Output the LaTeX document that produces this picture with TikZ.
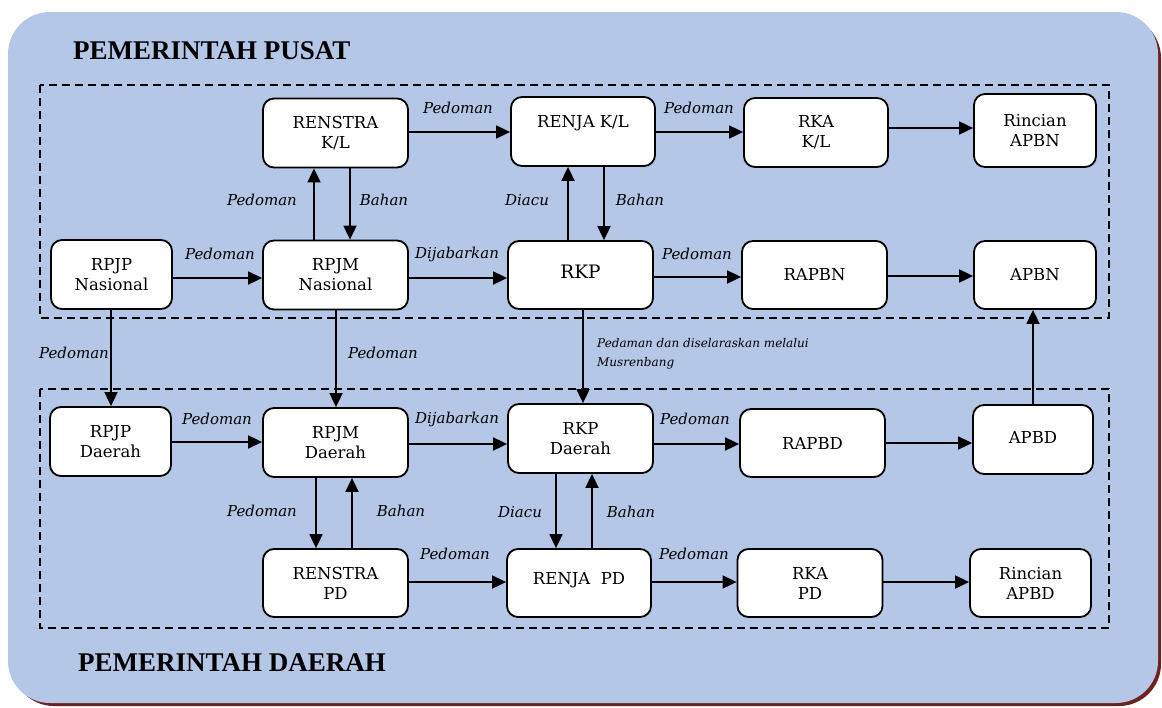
\documentclass[tikz,border=0pt]{standalone}
\usepackage{fontspec}
\setmainfont{DejaVu Serif}
\newfontfamily\titlefont{Liberation Serif}
\usetikzlibrary{arrows.meta}
\definecolor{bgblue}{HTML}{B4C7E7}
\definecolor{shadowred}{HTML}{6E2220}
\tikzset{
  box/.style={draw=black, line width=1.8pt, rounded corners=11pt, fill=white, align=center,
    inner sep=0pt, font=\fontsize{16.5}{20}\selectfont},
  lbl/.style={font=\fontsize{15}{17}\itshape\selectfont, inner sep=0pt},
  arr/.style={line width=1.8pt, -{Triangle[length=14pt,width=13pt]}},
  region/.style={draw=black, line width=1.6pt, dash pattern=on 8pt off 5pt},
  ttl/.style={font=\titlefont\bfseries\fontsize{27}{30}\selectfont, anchor=west, inner sep=0pt}
}
\begin{document}
\begin{tikzpicture}[x=1pt,y=-1pt]
\useasboundingbox (0,0) rectangle (1162,707);
% background
\fill[shadowred, rounded corners=42pt] (12,16) rectangle (1161,706);
\fill[bgblue, rounded corners=42pt] (8,12) rectangle (1158,703);
% regions
\draw[region] (40,85) rectangle (1109,318);
\draw[region] (40,389) rectangle (1109,628);
% titles
\node[ttl] (tpusat) at (73,51) {PEMERINTAH PUSAT};
\node[ttl] (tdaerah) at (78,663) {PEMERINTAH DAERAH};
% boxes row 1
\node[box, minimum width=145pt, minimum height=69pt] (renstrak) at (335.5,133) {RENSTRA\\K/L};
\node[box, minimum width=144pt, minimum height=69pt] (renjak) at (583,131.5) {RENJA K/L\\\mbox{}};
\node[box, minimum width=144pt, minimum height=69pt] (rkak) at (816,132.5) {RKA\\K/L};
\node[box, minimum width=122pt, minimum height=73pt] (rincn) at (1035,130.5) {Rincian\\APBN};
% row 2
\node[box, minimum width=121pt, minimum height=69pt] (rpjpn) at (111.5,274.5) {RPJP\\Nasional};
\node[box, minimum width=145pt, minimum height=69pt] (rpjmn) at (335.5,275) {RPJM\\Nasional};
\node[box, minimum width=145pt, minimum height=68pt] (rkp) at (580.5,275) {\raisebox{6pt}{\fontsize{18.5}{20}\selectfont RKP}};
\node[box, minimum width=145pt, minimum height=68pt] (rapbn) at (814.5,275) {RAPBN};
\node[box, minimum width=122pt, minimum height=68pt] (apbn) at (1035,275) {APBN};
% row 3
\node[box, minimum width=121pt, minimum height=69pt] (rpjpd) at (110.5,441.5) {RPJP\\Daerah};
\node[box, minimum width=145pt, minimum height=69pt] (rpjmd) at (335.5,442.5) {RPJM\\Daerah};
\node[box, minimum width=145pt, minimum height=69pt] (rkpd) at (580.5,438.5) {RKP\\Daerah};
\node[box, minimum width=145pt, minimum height=68pt] (rapbd) at (812.5,443) {RAPBD};
\node[box, minimum width=120pt, minimum height=69pt] (apbd) at (1033,439.5) {\raisebox{4pt}{APBD}};
% row 4
\node[box, minimum width=145pt, minimum height=68pt] (renstrapd) at (335.5,583) {RENSTRA\\PD};
\node[box, minimum width=144pt, minimum height=68pt] (renjapd) at (579,583) {\raisebox{9pt}{RENJA\ \ PD}};
\node[box, minimum width=145pt, minimum height=68pt] (rkapd) at (810,583) {RKA\\PD};
\node[box, minimum width=121pt, minimum height=68pt] (rincd) at (1030.5,583) {Rincian\\APBD};
% horizontal arrows, row 1
\draw[arr] (renstrak.east |- 0,132) -- (renjak.west |- 0,132);
\draw[arr] (renjak.east |- 0,132) -- (rkak.west |- 0,132);
\draw[arr] (rkak.east |- 0,128) -- (rincn.west |- 0,128);
% row 2
\draw[arr] (rpjpn.east |- 0,278) -- (rpjmn.west |- 0,278);
\draw[arr] (rpjmn.east |- 0,278) -- (rkp.west |- 0,278);
\draw[arr] (rkp.east |- 0,277) -- (rapbn.west |- 0,277);
\draw[arr] (rapbn.east |- 0,276) -- (apbn.west |- 0,276);
% row 3
\draw[arr] (rpjpd.east |- 0,442) -- (rpjmd.west |- 0,442);
\draw[arr] (rpjmd.east |- 0,444) -- (rkpd.west |- 0,444);
\draw[arr] (rkpd.east |- 0,444) -- (rapbd.west |- 0,444);
\draw[arr] (rapbd.east |- 0,443) -- (apbd.west |- 0,443);
% row 4
\draw[arr] (renstrapd.east |- 0,582) -- (renjapd.west |- 0,582);
\draw[arr] (renjapd.east |- 0,582) -- (rkapd.west |- 0,582);
\draw[arr] (rkapd.east |- 0,582) -- (rincd.west |- 0,582);
% vertical arrows
\draw[arr] (rpjmn.north -| 314,0) -- (renstrak.south -| 314,0);
\draw[arr] (renstrak.south -| 350,0) -- (rpjmn.north -| 350,0);
\draw[arr] (rkp.north -| 568,0) -- (renjak.south -| 568,0);
\draw[arr] (renjak.south -| 604,0) -- (rkp.north -| 604,0);
\draw[arr] (rpjpn.south -| 111,0) -- (rpjpd.north -| 111,0);
\draw[arr] (rpjmn.south -| 336,0) -- (rpjmd.north -| 336,0);
\draw[arr] (rkp.south -| 583,0) -- (rkpd.north -| 583,0);
\draw[arr] (apbd.north -| 1033,0) -- (apbn.south -| 1033,0);
\draw[arr] (rpjmd.south -| 316,0) -- (renstrapd.north -| 316,0);
\draw[arr] (renstrapd.north -| 352,0) -- (rpjmd.south -| 352,0);
\draw[arr] (rkpd.south -| 556,0) -- (renjapd.north -| 556,0);
\draw[arr] (renjapd.north -| 592,0) -- (rkpd.south -| 592,0);
% labels
\node[lbl] (l1) at (458,108) {Pedoman};
\node[lbl] (l2) at (699,108) {Pedoman};
\node[lbl] (l3) at (262,200) {Pedoman};
\node[lbl] (l4) at (384,200) {Bahan};
\node[lbl] (l5) at (527,200) {Diacu};
\node[lbl] (l6) at (640,200) {Bahan};
\node[lbl] (l7) at (220,254) {Pedoman};
\node[lbl] (l8) at (457,254) {Dijabarkan};
\node[lbl] (l9) at (697,254) {Pedoman};
\node[lbl] (l10) at (74,353) {Pedoman};
\node[lbl] (l11) at (383,353) {Pedoman};
\node[lbl, anchor=west, align=left, font=\fontsize{12}{19}\itshape\selectfont] (l12) at (597,354) {Pedaman dan diselaraskan melalui\\Musrenbang};
\node[lbl] (l13) at (217,419) {Pedoman};
\node[lbl] (l14) at (457,419) {Dijabarkan};
\node[lbl] (l15) at (695,419) {Pedoman};
\node[lbl] (l16) at (262,511) {Pedoman};
\node[lbl] (l17) at (401,511) {Bahan};
\node[lbl] (l18) at (520,512) {Diacu};
\node[lbl] (l19) at (631,512) {Bahan};
\node[lbl] (l20) at (455,554) {Pedoman};
\node[lbl] (l21) at (694,554) {Pedoman};
\end{tikzpicture}
\end{document}
